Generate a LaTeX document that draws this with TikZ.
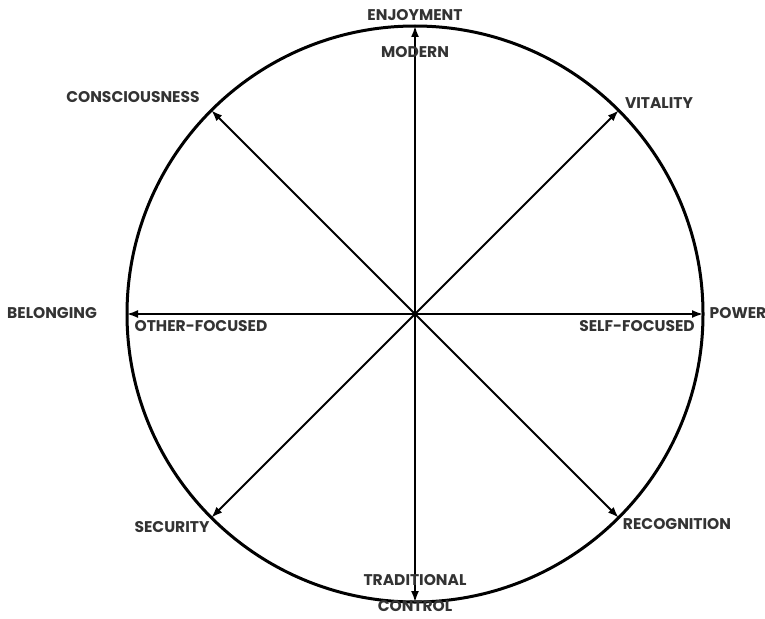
\documentclass[tikz,border=0pt]{standalone}
\usepackage{fontspec}
\setmainfont{Poppins}
\usepackage{tikz}
\usetikzlibrary{arrows.meta}
\definecolor{labelgray}{HTML}{333333}

\begin{document}
\begin{tikzpicture}[x=1pt, y=-1pt,
  every node/.style={font=\bfseries\fontsize{15.5}{16}\selectfont, text=labelgray, inner sep=1pt},
  axis/.style={line width=1.8pt, {Latex[length=11pt,width=8pt]}-{Latex[length=11pt,width=8pt]}}]
  \useasboundingbox (0,0) rectangle (765,618);
  \coordinate (c) at (415,314);
  \draw[line width=3pt] (c) circle (288);
  % ends of the axes on the circle
  \coordinate (top) at ([shift={(c)}]90:-288);
  \coordinate (bot) at ([shift={(c)}]90:288);
  \coordinate (lft) at ([shift={(c)}]180:288);
  \coordinate (rgt) at ([shift={(c)}]0:288);
  \coordinate (ne) at ([shift={(c)}]45:-288);
  \coordinate (sw) at ([shift={(c)}]45:288);
  \coordinate (nw) at ([shift={(c)}]135:-288);
  \coordinate (se) at ([shift={(c)}]135:288);
  \draw[axis] (top) -- (bot);
  \draw[axis] (lft) -- (rgt);
  \draw[axis] (ne) -- (sw);
  \draw[axis] (nw) -- (se);
  % outer labels
  \node (enjoy) at (415,15) {ENJOYMENT};
  \node (control) at (415,606) {CONTROL};
  \node (belong) at (52,313) {BELONGING};
  \node (power) at (738,313) {POWER};
  \node (consc) at (133,97) {CONSCIOUSNESS};
  \node (vital) at (659,103) {VITALITY};
  \node (secur) at (172,527) {SECURITY};
  \node (recog) at (677,524) {RECOGNITION};
  % inner labels
  \node (modern) at (415,52) {MODERN};
  \node (trad) at (415,580) {TRADITIONAL};
  \node (other) at (201,326) {OTHER-FOCUSED};
  \node (self) at (637,326) {SELF-FOCUSED};
\end{tikzpicture}
\end{document}
